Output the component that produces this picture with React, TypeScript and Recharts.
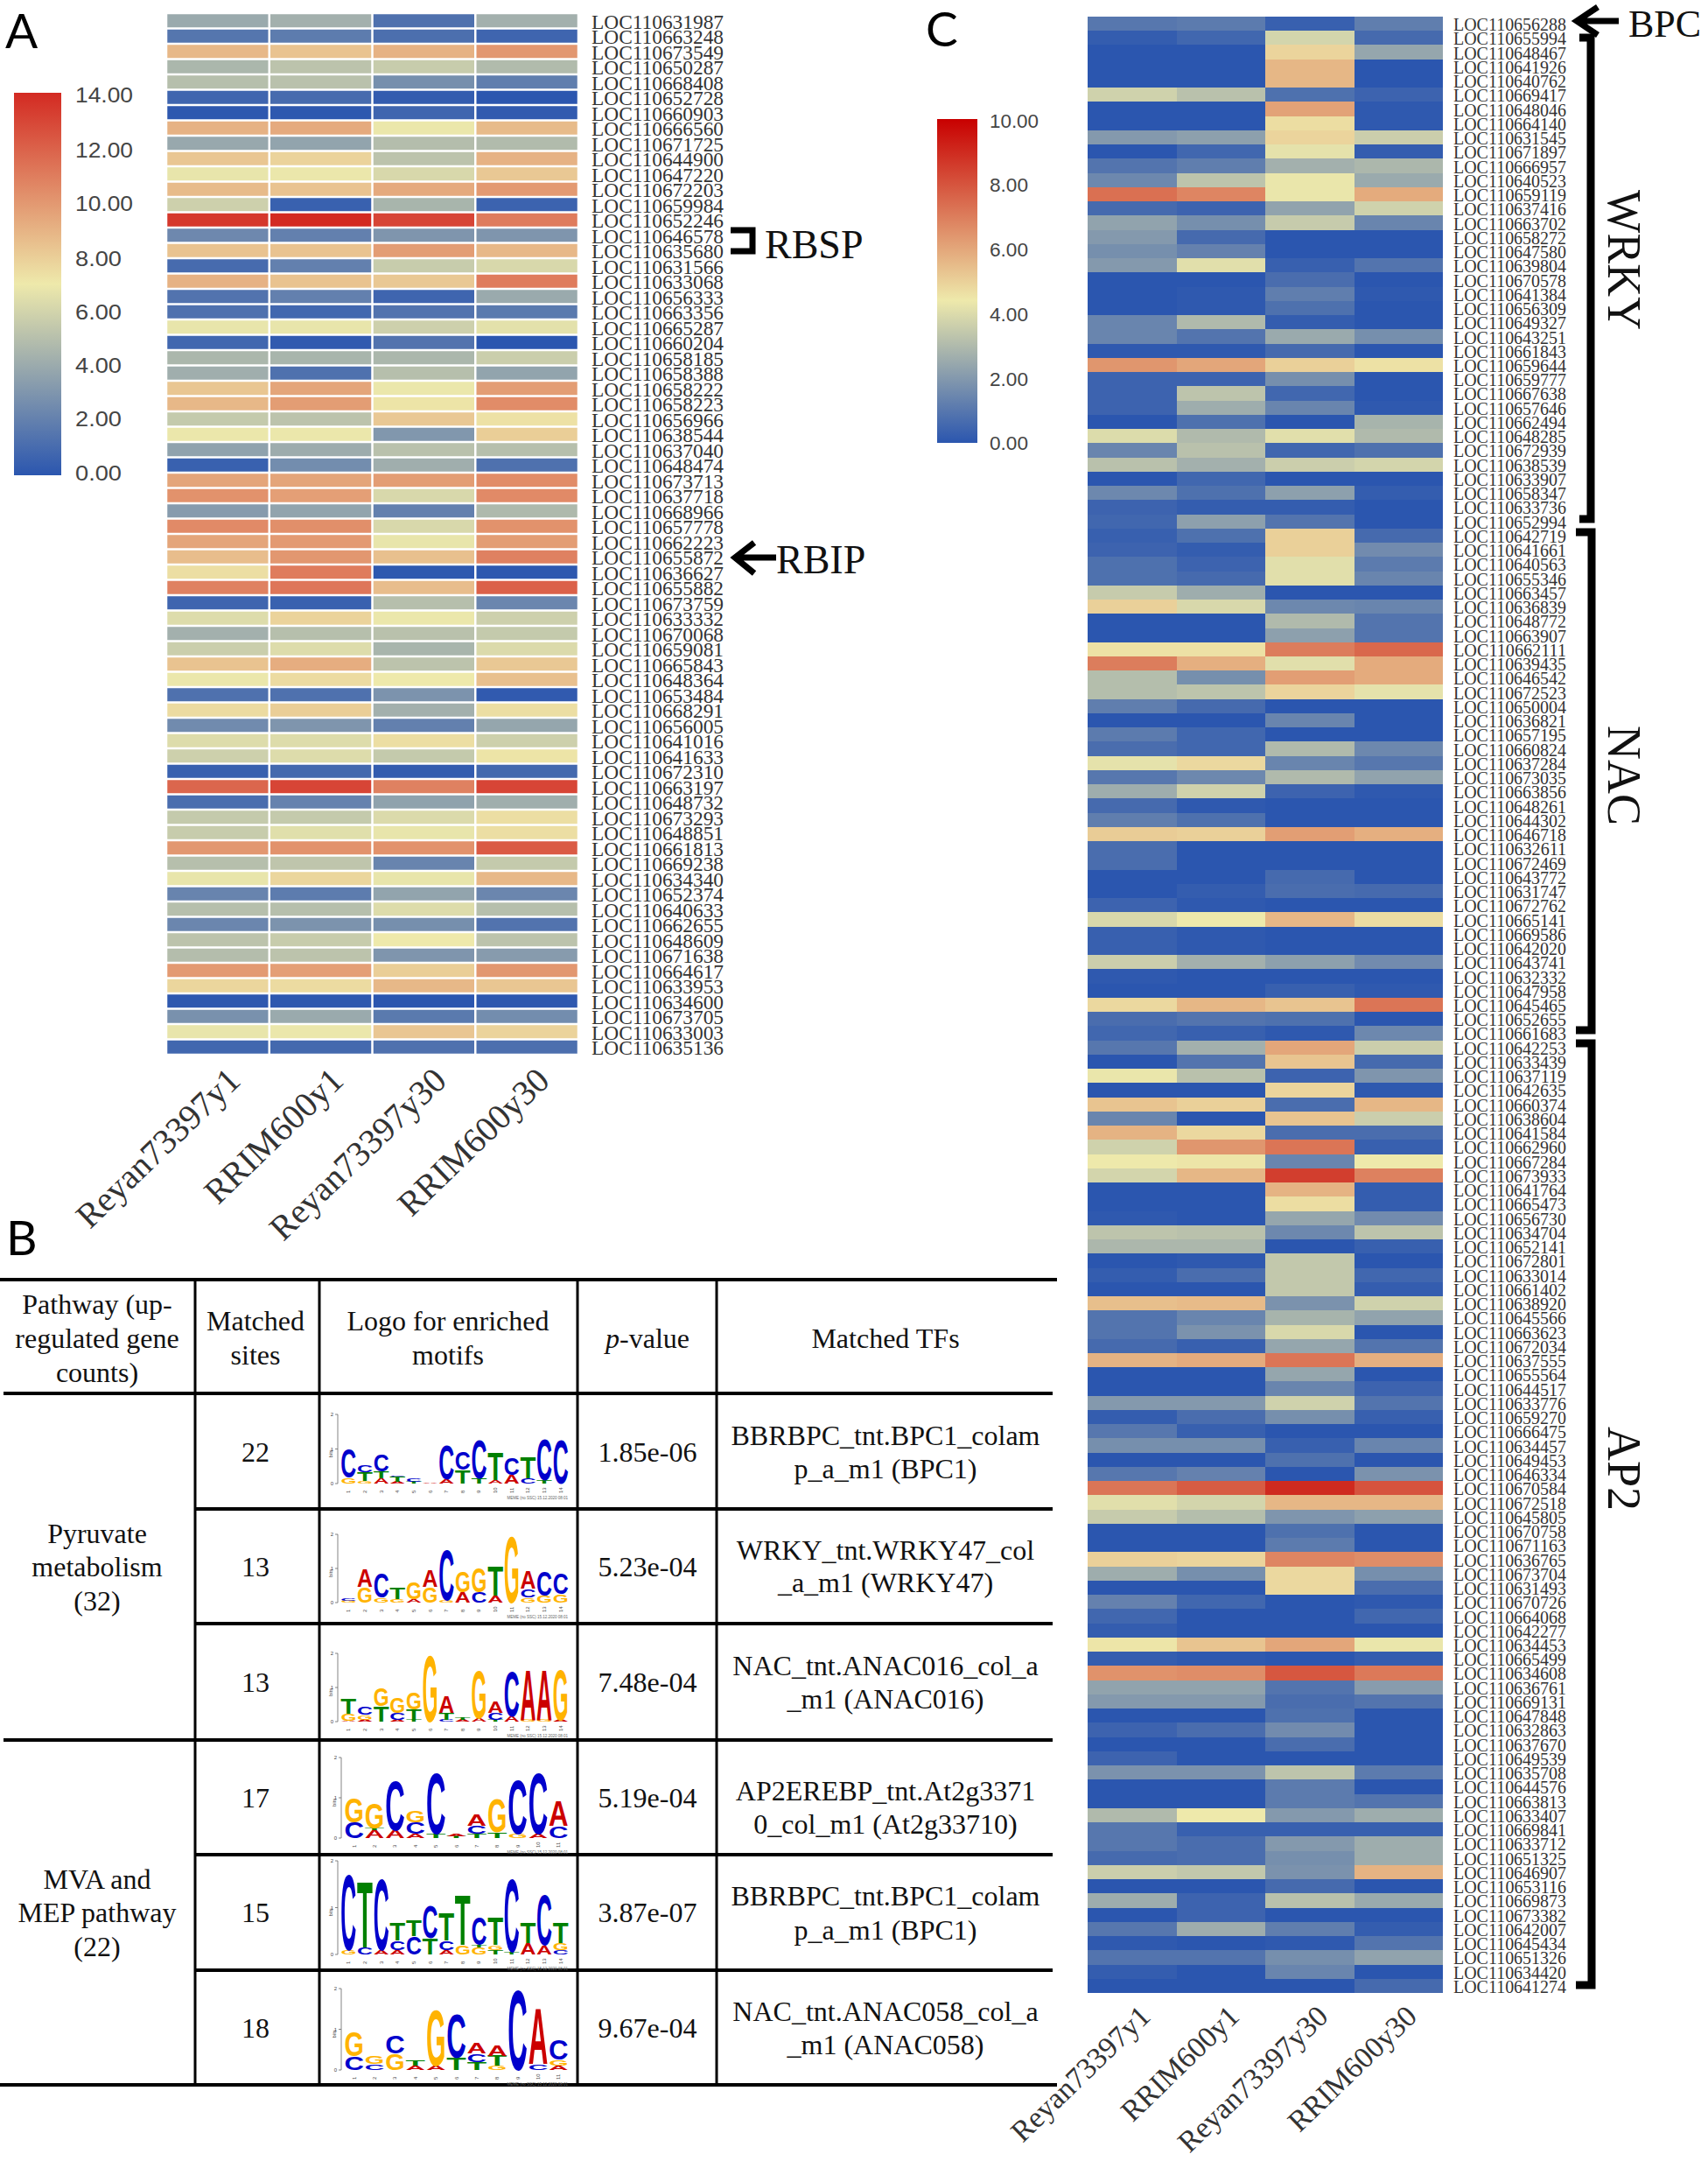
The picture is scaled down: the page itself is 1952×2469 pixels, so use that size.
import { ScatterChart, Scatter, XAxis, YAxis } from "recharts";

const samplesA = ["Reyan73397y1", "RRIM600y1", "Reyan73397y30", "RRIM600y30"];

const genesA = [
  "631987","663248","673549","650287","668408","652728","660903","666560","671725","644900","647220","672203",
  "659984","652246","646578","635680","631566","633068","656333","663356","665287","660204","658185","658388",
  "658222","658223","656966","638544","637040","648474","673713","637718","668966","657778","662223","655872",
  "636627","655882","673759","633332","670068","659081","665843","648364","653484","668291","656005","641016",
  "641633","672310","663197","648732","673293","648851","661813","669238","634340","652374","640633","662655",
  "648609","671638","664617","633953","634600","673705","633003","635136",
];

const valuesA = [
  [4,4.3,1.3,4.3],[1.5,1.8,1.2,0.7],[8.8,8.4,9,10],[4.6,5.2,5.6,4.8],[5,5.1,2.7,1.9],[0.7,1,0.3,0],
  [0.1,0.1,0.7,0.2],[9,9.3,6.9,8.7],[3.9,3.7,4.9,4.8],[8.3,7.8,5.2,9],[6.8,6.9,6.2,8.2],[8.7,8.4,9.3,9.9],
  [5.8,0.5,4.5,0.6],[13.5,14,13,11],[2.4,2,3,3],[8.4,8.4,9.8,8.8],[1,2,5.6,6.2],[9,8.4,8.2,11],
  [1.4,2,0.7,4],[1.3,0.8,1.4,1.7],[6.8,6.8,5.8,6.6],[0.8,0.2,1.4,0],[4.6,4.5,4.6,5.7],[4.2,1.3,5,3.7],
  [8.3,9.5,6.9,9.8],[8.8,9.8,7.2,10.4],[5.5,5.2,8.2,7.3],[6.9,6.9,3.1,8],[3.6,4.1,5.1,5],[0.5,2.6,4.2,1.3],
  [9.5,9.5,9.8,10.4],[10.2,9.7,6.2,10.5],[3.3,3.7,2,4.7],[10.5,10.3,6.2,10.2],[9.5,9.9,6.8,9.8],[8.6,10,8.5,10.8],
  [7.4,11,0.1,0.1],[10.8,11.2,8.6,12],[0.7,0.5,5,2.3],[6.4,7.8,6.9,5.8],[4.3,5,5.1,5.5],[5.7,6.4,4.5,6.3],
  [8.4,9.2,5.2,8.2],[6.9,7.5,7,8.5],[1.3,1.3,2.9,0.2],[7.5,8,4.3,7.4],[2.5,3,2,3.8],[6.4,6.4,7.4,5.8],
  [5.8,6.4,5.5,7.2],[0.5,0.9,0.3,0.9],[11.8,13,10.8,13],[1.1,2.1,3.6,4.2],[5.5,5.5,6.3,7.4],[5.6,6.5,6.8,7.4],
  [10,10.2,10.2,12.2],[5,5.3,2.2,5.5],[6.8,7.7,6.8,8.8],[2.2,1.8,3.7,2.3],[5,5,6.4,5],[2.3,2.9,2.7,1.4],
  [5.2,5.6,7,5.2],[4.9,5.2,3,3.3],[9.9,9.7,8,10],[7.7,7.5,8.8,8.3],[0.1,0.1,0,0.1],[2.8,4,1.7,2.6],
  [6.8,6.9,8.3,7.8],[0.8,0.9,1.3,1.2],
];

const genesC = [
  "656288","655994","648467","641926","640762","669417","648046","664140","631545","671897","666957","640523",
  "659119","637416","663702","658272","647580","639804","670578","641384","656309","649327","643251","661843",
  "659644","659777","667638","657646","662494","648285","672939","638539","633907","658347","633736","652994",
  "642719","641661","640563","655346","663457","636839","648772","663907","662111","639435","646542","672523",
  "650004","636821","657195","660824","637284","673035","663856","648261","644302","646718","632611","672469",
  "643772","631747","672762","665141","669586","642020","643741","632332","647958","645465","652655","661683",
  "642253","633439","637119","642635","660374","638604","641584","662960","667284","673933","641764","665473",
  "656730","634704","652141","672801","633014","661402","638920","645566","663623","672034","637555","655564",
  "644517","633776","659270","666475","634457","649453","646334","670584","672518","645805","670758","671163",
  "636765","673704","631493","670726","664068","642277","634453","665499","634608","636761","669131","647848",
  "632863","637670","649539","635708","644576","663813","633407","669841","633712","651325","646907","653116",
  "669873","673382","642007","645434","651326","634420","641274",
];

const valuesC = [
  [1,1.1,0.3,1.2],[0.2,0.5,3.8,0.6],[0,0,4.9,2.4],[0,0,5.6,0],[0,0,5.6,0],[3.7,3.2,0.8,0.4],[0,0,6.1,0.1],
  [0,0,4.7,0.1],[2,2.2,4.9,3.6],[0,0.5,4.2,0.2],[0.9,1.2,2.7,2.9],[1.5,3.3,4.3,2.5],[7.3,6.8,4.3,5.9],
  [0.6,0.4,2.3,3.7],[2.3,1.7,3.5,1.4],[2,0.6,0,0],[1.7,1.3,0,0],[2,4.1,0.3,0.9],[0,0,0.7,0],[0,0.1,1.2,0.1],
  [0,0.1,0.8,0],[1.4,3,0.2,0],[1.4,0.9,2.5,1.7],[0.1,0.1,0.6,0],[6.4,6,5,4.6],[0.4,0.4,1.7,0],[0.4,3.3,0.5,0],
  [0.4,2.6,1.4,0.1],[0,0.8,0,2.8],[4,3,4.1,3],[1.4,3.2,0.5,0.8],[3.2,2.7,3.6,3.8],[0,0.5,0,0],[1.5,0.8,2.2,0.2],
  [0.4,0.2,0.2,0],[0.5,2.2,0.9,0],[0.3,0.8,5,0.6],[0.4,0.2,5,1.6],[0.8,0.4,4.1,1.1],[0.8,0.6,4.1,1.4],
  [3.5,2.6,0,0],[5,3.9,1.5,1.4],[0,0,3,0.9],[0,0,2.2,0.9],[4.6,4.6,7,7.5],[7,5.8,4.1,5.9],[3.1,1.7,6.2,5.9],
  [3.1,3.3,4.9,4.2],[1.2,0.6,0,0],[0,0,1.4,0],[1.1,0.5,0,0],[0.7,0.5,3,1.5],[4.2,4.8,1.4,1],[1,1.5,3,2.3],
  [2.6,3.7,0.4,0.1],[0.6,0.1,0,0],[1.2,0.8,0,0],[5.1,5,6.2,5.8],[0.7,0,0,0],[0.7,0,0,0],[0,0,0.6,0],
  [0,0.2,0.7,0.6],[0.4,0.1,0,0],[3.9,4.4,5.6,4.7],[0.3,0.1,0,0],[0.3,0.1,0,0],[3.6,2.7,2.2,1.6],[0.1,0,0,0],
  [0,0,0.3,0.1],[4.8,5.6,5.3,7.2],[0.7,0.9,0.8,0],[0.5,0.3,0.1,1.5],[1,2.7,6,3.6],[0,0.9,5.3,0.6],
  [4.3,3.2,0.4,1.9],[0,0,4.9,0.1],[5.3,5,0.7,5.6],[1.4,0,5.3,3.6],[5.7,4.8,0.7,0.7],[3.7,6.4,7.2,0.3],
  [4.4,4.5,1.4,4.4],[3.8,5.6,8.5,6.9],[0,0,5.7,0.2],[0,0,4.7,0.2],[0.1,0,2.4,1.6],[3.3,3.2,1.5,3.3],
  [2.9,2.9,0,0.3],[0,0.1,3.4,0],[0.2,0.7,3.4,0.5],[0,0,3.4,0.2],[5.4,5.5,1.8,3.7],[0.9,1.4,2.8,2.3],
  [0.9,1.8,3.9,0],[0.6,0.3,2.4,0.9],[5.7,5.9,7.2,5.8],[0,0,2.4,0],[0,0,1.4,0.4],[2,2,3.7,0.9],[0.2,0.7,1.7,0.3],
  [1,0.3,0,0],[1.7,1.7,0.3,1.4],[0,0,0.8,0],[1,1.3,0,1.8],[7.2,7.8,9,8],[4.1,3.8,5.6,5.6],[3.5,3.1,1.9,2.2],
  [0,0,0.8,0],[0,0,1.1,0],[5,4.9,6.8,6.6],[2.6,1.7,4.8,1.7],[0,0,4.8,0.7],[1.3,0.5,0,0.1],[0.5,0,0,0.5],
  [0.2,0,0,0],[4.5,5.3,6,4.3],[0.2,0.1,0,0.2],[6.5,6.6,7.9,7.1],[2.3,2.3,0.9,2.1],[2,2,0.7,0.9],[0,0,0.8,0],
  [0.4,0.7,1.6,0],[0,0,0.7,0],[0.4,0,0,0],[1.8,1.8,3.3,1.1],[0,0,1.1,0],[0,0,1.1,0.9],[3,4.4,2,2.6],
  [1,0.3,0.3,0.3],[1,0.7,2,2.6],[0.6,0.7,1.7,2.6],[3.6,3.4,1.8,5.7],[0,0,0.6,0],[2.6,0.4,3.2,2.5],[0,0.4,0,0],
  [1,2.6,1.2,0.2],[0.1,0,0.1,0.9],[0.9,0.9,1.7,2.3],[0.2,0,1.4,0],[0,0,0,0.6],
];

const ticksLegendA = ["14.00", "12.00", "10.00", "8.00", "6.00", "4.00", "2.00", "0.00"];
const ticksLegendC = ["10.00", "8.00", "6.00", "4.00", "2.00", "0.00"];

const logo1 = ["G17 C85","G8 T25 C20","A15 T20 C50","A5 T15 C4","T5 C10","A2","A12 C100","T40 C55","T15 C115","A10 T80","A25 C50","C15 T65","T10 C120","C130"];
const logo2 = ["G5 C5","G45 A55","G15 C70","G10 T35","A10 G50","G45 A50","G8 C150","A30 G60","C30 G70","A20 T90","G200","G15 C25 A55","G20 C70","G25 C60"];
const logo3 = ["A3 G20 T45","A5 G15 C25","T45 G55","A5 C20 G45","T5 T30 G50","G200","C5 T20 A50","A5 T8","A10 G145","T5 C20 A35","A15 C135","G5 A150","G5 A150","A5 G150"];
const logo4 = ["C40 G60","A20 T5 G65","A20 C125","A10 C30 G30","T10 C155","T5 A5","T10 C20 A30","T15 G85","G10 C135","A10 C155","C30 A65"];
const logo5 = ["G10 C165","C15 T145","A10 C155","A10 C20 T40","C40 T35","T35 C70","A10 C20 T60","G20 T110","G15 T5 C60","T10 G10 T60","T5 C160","A25 T45","A20 C110","C10 G15 T45"];
const logo6 = ["C35 G60","C15 G20","G40 C45","A10 T15","A10 G140","T30 C110","T20 C20 A25","G10 T25 A25","C200","C15 A140","A10 G15 C50"];

const tableRows = [
  { sites: "22", p: "1.85e-06", tf: ["BBRBPC_tnt.BPC1_colam", "p_a_m1 (BPC1)"], logo: logo1 },
  { sites: "13", p: "5.23e-04", tf: ["WRKY_tnt.WRKY47_col", "_a_m1 (WRKY47)"], logo: logo2 },
  { sites: "13", p: "7.48e-04", tf: ["NAC_tnt.ANAC016_col_a", "_m1 (ANAC016)"], logo: logo3 },
  { sites: "17", p: "5.19e-04", tf: ["AP2EREBP_tnt.At2g3371", "0_col_m1 (At2g33710)"], logo: logo4 },
  { sites: "15", p: "3.87e-07", tf: ["BBRBPC_tnt.BPC1_colam", "p_a_m1 (BPC1)"], logo: logo5 },
  { sites: "18", p: "9.67e-04", tf: ["NAC_tnt.ANAC058_col_a", "_m1 (ANAC058)"], logo: logo6 },
];

const SERIF = "'Liberation Serif', serif";
const SANS = "'Liberation Sans', sans-serif";
const BLUE = "#2B56AF";
const YELLOW = "#EEE9AB";

function mix(a: string, b: string, t: number) {
  const ch = (c: string, i: number) => parseInt(c.slice(1 + i * 2, 3 + i * 2), 16);
  const out = [0, 1, 2].map((i) => Math.round(ch(a, i) + (ch(b, i) - ch(a, i)) * t));
  return `rgb(${out.join(",")})`;
}

function heatColor(v: number, mid: number, max: number, top: string) {
  if (v <= mid) return mix(BLUE, YELLOW, v / mid);
  return mix(YELLOW, top, Math.min(1, (v - mid) / (max - mid)));
}

function HeatmapPanel(props: any) {
  const { genes, values, samples, left, top, plotLeft, plotRight, plotTop, plotBottom, chartW, chartH } = props;
  const { gapX, gapY, mid, max, topColor, labelSize, labelLen, labelDx, sampleSize, sampleDx, sampleDy, crisp } = props;
  const bandW = (plotRight - plotLeft) / 4;
  const bandH = (plotBottom - plotTop) / genes.length;
  const cells = genes.flatMap((_: string, r: number) =>
    samples.map((_s: string, c: number) => ({ col: c + 0.5, row: r + 0.5, value: values[r][c] }))
  );
  const yWidth = 170;
  const xHeight = 180;

  const GeneTick = ({ x, y, payload }: any) => (
    <text
      x={x + labelDx}
      y={y + 1}
      dy="0.35em"
      fontFamily={SERIF}
      fontSize={labelSize}
      fill="#333"
      textLength={labelLen}
      lengthAdjust="spacingAndGlyphs"
    >
      {"LOC110" + genes[payload.value - 0.5]}
    </text>
  );

  const SampleTick = ({ x, y, payload }: any) => (
    <text
      transform={`translate(${x + sampleDx},${y + sampleDy}) rotate(-44)`}
      textAnchor="end"
      fontFamily={SERIF}
      fontSize={sampleSize}
      fill="#333"
    >
      {samples[payload.value - 0.5]}
    </text>
  );

  const Cell = ({ cx, cy, payload }: any) => (
    <rect
      x={cx - bandW / 2 + gapX / 2}
      y={cy - bandH / 2 + gapY / 2}
      width={bandW - gapX}
      height={bandH - gapY}
      fill={heatColor(payload.value, mid, max, topColor)}
      shapeRendering={crisp ? "crispEdges" : undefined}
    />
  );

  return (
    <div style={{ position: "absolute", left, top }}>
      <ScatterChart
        width={chartW}
        height={chartH}
        margin={{
          top: plotTop,
          left: plotLeft,
          right: chartW - plotRight - yWidth,
          bottom: chartH - plotBottom - xHeight,
        }}
      >
        <XAxis
          type="number"
          dataKey="col"
          domain={[0, 4]}
          ticks={[0.5, 1.5, 2.5, 3.5]}
          interval={0}
          height={xHeight}
          tick={<SampleTick />}
          tickLine={false}
          axisLine={false}
          tickSize={0}
        />
        <YAxis
          type="number"
          dataKey="row"
          orientation="right"
          reversed
          domain={[0, genes.length]}
          ticks={genes.map((_: string, i: number) => i + 0.5)}
          interval={0}
          width={yWidth}
          tick={<GeneTick />}
          tickLine={false}
          axisLine={false}
          tickSize={0}
        />
        <Scatter data={cells} shape={<Cell />} isAnimationActive={false} />
      </ScatterChart>
    </div>
  );
}

const LOGO_COLORS: any = { A: "#CC0000", C: "#0000CC", G: "#FFB300", T: "#008000" };
const LOGO_ADV: any = { A: 72, C: 72, G: 78, T: 61 };

function Logo({ stacks, x0, x1, y2, y0 }: any) {
  const perBit = (y0 - y2) / 2;
  const step = (x1 - x0) / stacks.length;
  return (
    <g>
      <path d={`M${x0 - 3} ${y2}V${y0}M${x0 - 6} ${y2}H${x0 - 3}M${x0 - 6} ${(y0 + y2) / 2}H${x0 - 3}M${x0 - 6} ${y0}H${x0 - 3}`} stroke="#666" strokeWidth={0.8} fill="none" />
      <text x={x0 - 8} y={y2 + 2} fontSize={6} fontFamily={SANS} textAnchor="end" fill="#444">2</text>
      <text x={x0 - 8} y={(y0 + y2) / 2 + 2} fontSize={6} fontFamily={SANS} textAnchor="end" fill="#444">1</text>
      <text x={x0 - 8} y={y0 + 2} fontSize={6} fontFamily={SANS} textAnchor="end" fill="#444">0</text>
      <text transform={`translate(${x0 - 9},${(y0 + y2) / 2 + 10}) rotate(-90)`} fontSize={6} fontFamily={SANS} fill="#444">bits</text>
      {stacks.map((s: string, i: number) => {
        let base = y0;
        const cx = x0 + step * (i + 0.5);
        return (
          <g key={i}>
            {s.split(" ").map((part, j) => {
              const letter = part[0];
              const h = (Number(part.slice(1)) / 100) * perBit;
              const yPos = base;
              base -= h;
              return (
                <text
                  key={j}
                  transform={`translate(${cx},${yPos}) scale(${(step * 0.96) / LOGO_ADV[letter]},${h / 72})`}
                  fontFamily={SANS}
                  fontWeight="bold"
                  fontSize={100}
                  textAnchor="middle"
                  fill={LOGO_COLORS[letter]}
                >
                  {letter}
                </text>
              );
            })}
            <text transform={`translate(${cx + 2},${y0 + 11}) rotate(-90)`} fontSize={6} fontFamily={SANS} fill="#444">{i + 1}</text>
          </g>
        );
      })}
      <text x={x1 - 1} y={y0 + 18} fontSize={4.5} fontFamily={SANS} textAnchor="end" fill="#666">MEME (no SSC) 15.12.2020 08:01</text>
    </g>
  );
}

const logoBoxes = [
  { x0: 389, x1: 650, y2: 1616, y0: 1695 },
  { x0: 389, x1: 650, y2: 1753, y0: 1831 },
  { x0: 389, x1: 650, y2: 1889, y0: 1967 },
  { x0: 393, x1: 650, y2: 2008, y0: 2100 },
  { x0: 389, x1: 650, y2: 2126, y0: 2233 },
  { x0: 393, x1: 650, y2: 2272, y0: 2365 },
];
const rowCenters = [1659, 1790, 1922, 2054, 2185, 2317];
const tfLines = [[1640, 1678], [1771, 1808], [1903, 1941], [2046, 2084], [2166, 2205], [2298, 2336]];

function Cap({ x, y, children, size = 32, anchor = "middle" }: any) {
  return (
    <text x={x} y={y} dy="0.33em" fontFamily={SERIF} fontSize={size} textAnchor={anchor} fill="#111">
      {children}
    </text>
  );
}

function Overlay() {
  const tickA = [108, 171, 232, 295, 356, 417, 478, 540];
  const tickC = [138, 211, 285, 359, 433, 506];
  return (
    <svg width={1952} height={2469} style={{ position: "absolute", left: 0, top: 0, pointerEvents: "none" }}>
      <defs>
        <linearGradient id="legA" x1="0" y1="0" x2="0" y2="1">
          <stop offset="0" stopColor="#D32A22" />
          <stop offset="0.5" stopColor={YELLOW} />
          <stop offset="1" stopColor={BLUE} />
        </linearGradient>
        <linearGradient id="legC" x1="0" y1="0" x2="0" y2="1">
          <stop offset="0" stopColor="#C80000" />
          <stop offset="0.56" stopColor={YELLOW} />
          <stop offset="1" stopColor={BLUE} />
        </linearGradient>
      </defs>

      <text x={6} y={55} fontFamily="Lato" fontSize={55} fill="#000">A</text>
      <text x={7} y={1434} fontFamily="Lato" fontSize={55} fill="#000">B</text>
      <text x={1058} y={53} fontFamily="Lato" fontSize={55} fill="#000">C</text>

      <rect x={16} y={106} width={54} height={437} fill="url(#legA)" />
      {ticksLegendA.map((t, i) => (
        <text key={t} x={86} y={tickA[i]} dy="0.36em" fontFamily={SANS} fontSize={24} fill="#444" textLength={t.length === 5 ? 66 : 53} lengthAdjust="spacingAndGlyphs">{t}</text>
      ))}
      <rect x={1071} y={136} width={46} height={370} fill="url(#legC)" />
      {ticksLegendC.map((t, i) => (
        <text key={t} x={1131} y={tickC[i]} dy="0.36em" fontFamily={SANS} fontSize={22} fill="#444" textLength={t.length === 5 ? 56 : 44} lengthAdjust="spacingAndGlyphs">{t}</text>
      ))}

      <path d="M835 263H860V287H835" fill="none" stroke="#000" strokeWidth={7} />
      <Cap x={874} y={280} size={46} anchor="start">RBSP</Cap>
      <path d="M887 637H842M862 620L840 637L862 655" fill="none" stroke="#000" strokeWidth={7} />
      <Cap x={887} y={640} size={46} anchor="start">RBIP</Cap>
      <path d="M1850 24H1805M1826 8L1802 24L1826 40" fill="none" stroke="#000" strokeWidth={7} />
      <Cap x={1861} y={27} size={44} anchor="start">BPC</Cap>

      <path d="M1805 43H1818V593H1805" fill="none" stroke="#000" strokeWidth={9} />
      <path d="M1801 608H1819V1177H1801" fill="none" stroke="#000" strokeWidth={9} />
      <path d="M1801 1192H1819V2268H1801" fill="none" stroke="#000" strokeWidth={9} />
      <text transform="translate(1838,297) rotate(90)" fontFamily={SERIF} fontSize={54} textAnchor="middle" textLength={160} lengthAdjust="spacingAndGlyphs" fill="#111">WRKY</text>
      <text transform="translate(1838,886) rotate(90)" fontFamily={SERIF} fontSize={54} textAnchor="middle" fill="#111">NAC</text>
      <text transform="translate(1838,1678) rotate(90)" fontFamily={SERIF} fontSize={54} textAnchor="middle" fill="#111">AP2</text>

      {[1462, 2382].map((y) => <line key={y} x1={0} x2={1208} y1={y} y2={y} stroke="#000" strokeWidth={4} />)}
      {[1592, 1988].map((y) => <line key={y} x1={4} x2={1203} y1={y} y2={y} stroke="#000" strokeWidth={4} />)}
      {[1724, 1855, 2119, 2251].map((y) => <line key={y} x1={223} x2={1203} y1={y} y2={y} stroke="#000" strokeWidth={4} />)}
      {[223, 365, 660, 819].map((x) => <line key={x} x1={x} x2={x} y1={1462} y2={2382} stroke="#000" strokeWidth={3} />)}

      <Cap x={111} y={1490}>Pathway (up-</Cap>
      <Cap x={111} y={1529}>regulated gene</Cap>
      <Cap x={111} y={1568}>counts)</Cap>
      <Cap x={292} y={1509}>Matched</Cap>
      <Cap x={292} y={1548}>sites</Cap>
      <Cap x={512} y={1509}>Logo for enriched</Cap>
      <Cap x={512} y={1548}>motifs</Cap>
      <Cap x={740} y={1529}><tspan fontStyle="italic">p</tspan>-value</Cap>
      <Cap x={1012} y={1529}>Matched TFs</Cap>

      <Cap x={111} y={1752}>Pyruvate</Cap>
      <Cap x={111} y={1790}>metabolism</Cap>
      <Cap x={111} y={1829}>(32)</Cap>
      <Cap x={111} y={2147}>MVA and</Cap>
      <Cap x={111} y={2185}>MEP pathway</Cap>
      <Cap x={111} y={2224}>(22)</Cap>

      {tableRows.map((row, i) => (
        <g key={i}>
          <Cap x={292} y={rowCenters[i]}>{row.sites}</Cap>
          <Cap x={740} y={rowCenters[i]}>{row.p}</Cap>
          <Cap x={1012} y={tfLines[i][0]}>{row.tf[0]}</Cap>
          <Cap x={1012} y={tfLines[i][1]}>{row.tf[1]}</Cap>
          <Logo stacks={row.logo} {...logoBoxes[i]} />
        </g>
      ))}
    </svg>
  );
}

export default function App() {
  return (
    <div style={{ position: "absolute", left: 0, top: 0, width: 1952, height: 2469, overflow: "hidden", background: "#fff" }}>
      <HeatmapPanel
        genes={genesA}
        values={valuesA}
        samples={samplesA}
        left={0}
        top={0}
        chartW={1000}
        chartH={1440}
        plotLeft={190}
        plotRight={661}
        plotTop={15}
        plotBottom={1205}
        gapX={2.5}
        gapY={2.5}
        mid={7}
        max={14}
        topColor="#D32A22"
        labelSize={23}
        labelLen={151}
        labelDx={13}
        sampleSize={40}
        sampleDx={28}
        sampleDy={30}
      />
      <HeatmapPanel
        genes={genesC}
        values={valuesC}
        samples={samplesA}
        left={1100}
        top={0}
        chartW={852}
        chartH={2469}
        plotLeft={143}
        plotRight={549}
        plotTop={19}
        plotBottom={2277}
        gapX={0}
        gapY={0}
        mid={4.4}
        max={10}
        topColor="#C80000"
        labelSize={20}
        labelLen={129}
        labelDx={10}
        sampleSize={34}
        sampleDx={23}
        sampleDy={27}
        crisp
      />
      <Overlay />
    </div>
  );
}
